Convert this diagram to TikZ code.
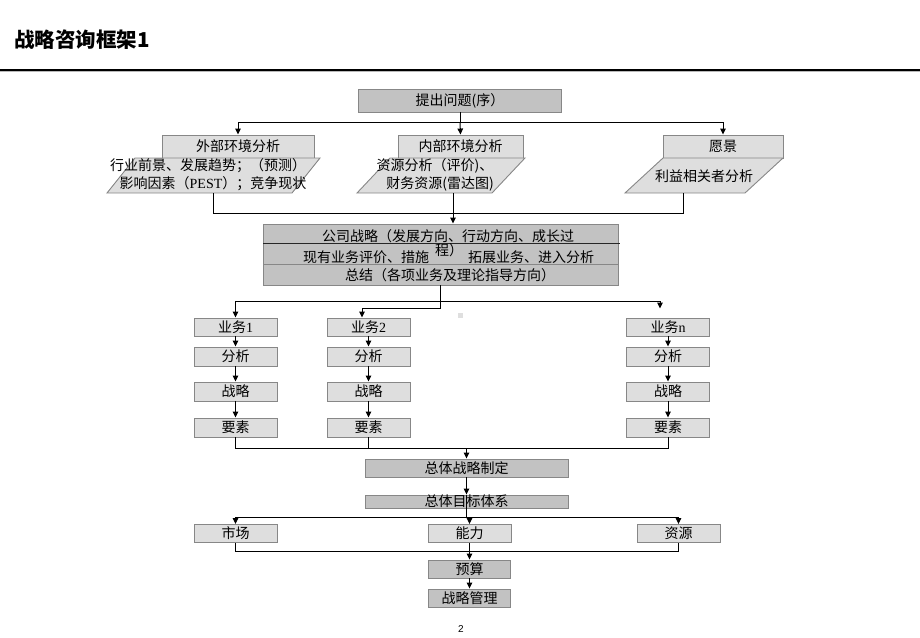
\documentclass[tikz,border=0pt]{standalone}
\usepackage{fontspec}
\setmainfont{Noto Sans CJK SC}
\newfontfamily\serifl{Liberation Serif}
\newfontfamily\pagef{Liberation Sans}
\usetikzlibrary{arrows.meta}
\definecolor{darkf}{HTML}{C2C2C2}
\definecolor{lightf}{HTML}{DEDEDE}
\definecolor{bordc}{HTML}{878787}
\tikzset{
  txt/.style={font=\fontsize{14}{16}\selectfont, inner sep=0pt},
  dbox/.style={txt, draw=bordc, line width=0.9pt, fill=darkf},
  lbox/.style={txt, draw=bordc, line width=0.9pt, fill=lightf},
  para/.style={draw=bordc, line width=0.9pt, fill=lightf},
  con/.style={draw=black, line width=1pt},
  arr/.style={con, -{Triangle[length=6pt,width=5.5pt]}},
}
\begin{document}
\begin{tikzpicture}[x=1pt,y=-1pt]
\useasboundingbox (0,0) rectangle (920,637);
% title
\node[anchor=west, inner sep=0pt, font=\fontsize{20.5}{22}\selectfont\bfseries] (title) at (14,40) {战略咨询框架1};
\draw[line width=1.6pt] (0,70) -- (920,70);
\draw[gray!55, line width=1pt] (0,71.8) -- (920,71.8);

% top box
\node[dbox, minimum width=203pt, minimum height=23pt] (q) at (460,100.5) {提出问题(序）};

% second level boxes
\node[lbox, minimum width=152pt, minimum height=23pt] (ext) at (238,146.5) {外部环境分析};
\node[lbox, minimum width=125pt, minimum height=23pt] (int) at (460.5,146.5) {内部环境分析};
\node[lbox, minimum width=120pt, minimum height=23pt] (vis) at (723,146.5) {愿景};

% parallelograms
\path[para] (135,158) -- (320,158) -- (292,193) -- (107,193) -- cycle;
\path[para] (390,158) -- (525,158) -- (492,193) -- (357,193) -- cycle;
\path[para] (663,158) -- (783,158) -- (745,193) -- (625,193) -- cycle;
\node[txt] (ext1) at (208,165.5) {行业前景、发展趋势；（预测）};
\node[txt] (ext2) at (213,183.5) {影响因素（{\serifl PEST}）；竞争现状};
\node[txt] (int1) at (435,165.5) {资源分析（评价)、};
\node[txt] (int2) at (440,183.5) {财务资源(雷达图)};
\node[txt] (vis1) at (704,176) {利益相关者分析};
\coordinate (extb) at (213,193);
\coordinate (intb) at (453,193);
\coordinate (visb) at (683,193);

% strategy block
\node[dbox, minimum width=355pt, minimum height=19pt] (s1) at (440.5,233.5) {};
\node[dbox, minimum width=355pt, minimum height=21pt] (s2) at (440.5,253.5) {};
\node[dbox, minimum width=355pt, minimum height=21pt] (s3) at (440.5,274.5) {};
\draw[line width=0.9pt, black!85] (263,243) -- (620,243);
\node[txt] (t1) at (448,236.5) {公司战略（发展方向、行动方向、成长过};
\node[txt] (t2a) at (366,257.5) {现有业务评价、措施};
\node[txt] (t2b) at (449,250.5) {程）};
\node[txt] (t2c) at (531,257.5) {拓展业务、进入分析};
\node[txt] (t3) at (450,275.5) {总结（各项业务及理论指导方向）};

% business columns
\foreach \c/\x/\lab in {1/235.5/{业务{\serifl 1}}, 2/368.5/{业务{\serifl 2}}, n/668/{业务{\serifl n}}}{
  \node[lbox, minimum width=83pt, minimum height=18pt] (b\c) at (\x,327) {\lab};
  \node[lbox, minimum width=83pt, minimum height=19pt] (a\c) at (\x,356.5) {分析};
  \node[lbox, minimum width=83pt, minimum height=19pt] (z\c) at (\x,391.5) {战略};
  \node[lbox, minimum width=83pt, minimum height=19pt] (y\c) at (\x,427.5) {要素};
  \draw[arr] (b\c.south) -- (a\c.north);
  \draw[arr] (a\c.south) -- (z\c.north);
  \draw[arr] (z\c.south) -- (y\c.north);
}
\node[fill=gray!25, minimum size=5pt, inner sep=0pt] (dot) at (460,315) {};

% overall
\node[dbox, minimum width=203pt, minimum height=18pt] (g1) at (466.5,468) {总体战略制定};
\node[dbox, minimum width=203pt, minimum height=13pt] (g2) at (466.5,501.5) {总体目标体系};

\node[lbox, minimum width=83pt, minimum height=18pt] (m1) at (235.5,533.5) {市场};
\node[lbox, minimum width=83pt, minimum height=18pt] (m2) at (469.5,533.5) {能力};
\node[lbox, minimum width=83pt, minimum height=18pt] (m3) at (678.5,533.5) {资源};

\node[dbox, minimum width=82pt, minimum height=18pt] (p1) at (469.5,569) {预算};
\node[dbox, minimum width=82pt, minimum height=18pt] (p2) at (469.5,598) {战略管理};

\node[inner sep=0pt, font=\pagef\fontsize{10}{12}\selectfont] (pg) at (461,629) {2};

% connectors top
\coordinate (qj) at (460,122);
\draw[con] (q.south) -- (qj);
\draw[arr] (qj) -| (ext.north);
\draw[arr] (qj) -| (vis.north);
\draw[arr] (qj) -- (int.north);

\coordinate (mj) at (453,213);
\draw[con] (extb) |- (mj);
\draw[con] (visb) |- (mj);
\draw[arr] (intb) -- (intb |- s1.north);

% connectors to business columns
\coordinate (j1) at (440.5,301);
\coordinate (j2) at (440.5,308);
\coordinate (bnt) at (660,308.5);
\coordinate (b2t) at (362,308);
\draw[con] (s3.south) -- (j2);
\draw[arr] (j1) -| (b1.north);
\draw[arr] (j1) -| (bnt);
\draw[con] (j2) -- (b2t);
\draw[arr] (b2t) -- (b2t |- b2.north);

% merge of columns
\coordinate (mg) at (466.5,448);
\draw[con] (y1.south) -- (y1.south |- mg) -- (yn.south |- mg) -- (yn.south);
\draw[con] (y2.south) -- (y2.south |- mg);
\draw[arr] (mg) -- (g1.north);
\draw[arr] (g1.south) -- (g2.north);

\coordinate (hj) at (466.5,517);
\draw[con] (g2.north) -- (hj);
\draw[arr] (hj) -| (m1.north);
\draw[arr] (hj) -| (m3.north);
\draw[con] (hj) -- (hj -| m2.north);
\draw[arr] (hj -| m2.north) -- (m2.north);

\coordinate (kj) at (469.5,551);
\draw[con] (m1.south) -- (m1.south |- kj) -- (m3.south |- kj) -- (m3.south);
\draw[con] (m2.south) -- (kj);
\draw[arr] (kj) -- (p1.north);
\draw[arr] (p1.south) -- (p2.north);
\end{tikzpicture}
\end{document}
